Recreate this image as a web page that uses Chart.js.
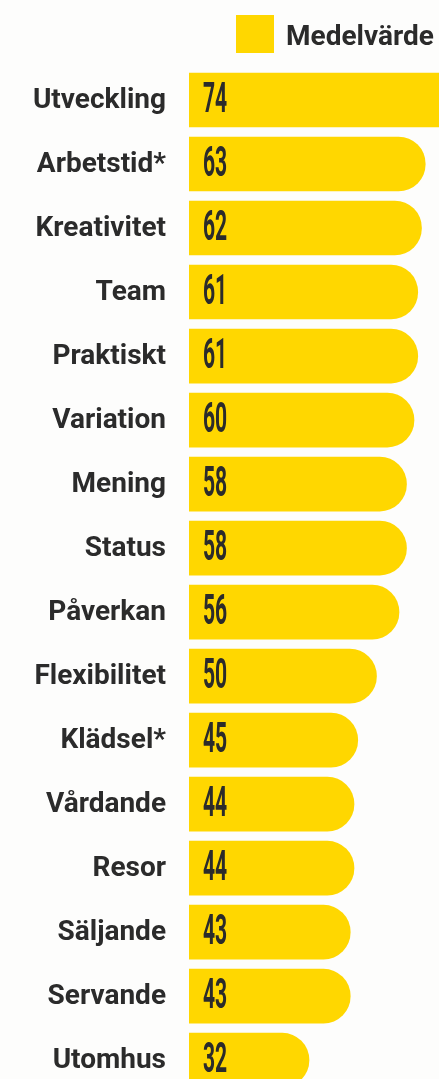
<!DOCTYPE html>
<html>
<head>
<meta charset="utf-8">
<script src="https://cdn.jsdelivr.net/npm/chart.js@4/dist/chart.umd.min.js"></script>
<style>
  html, body { margin: 0; padding: 0; background: #fdfdfc; overflow: hidden; }
  #wrap { position: relative; width: 439px; height: 1132px; }
  #legend { position: absolute; left: 236px; top: 15px; height: 38px; display: flex; align-items: center; }
  #legend .box { width: 38px; height: 38px; background: #FFD700; }
  #legend .txt { margin-left: 12px; font: bold 28px Roboto, sans-serif; color: #2b2b2b; white-space: nowrap; line-height: 38px; position: relative; top: 2px; }
</style>
</head>
<body>
<div id="wrap">
  <canvas id="c"></canvas>
  <div id="legend"><div class="box"></div><div class="txt" id="legendText"></div></div>
</div>
<script>
const categories = ['Utveckling','Arbetstid*','Kreativitet','Team','Praktiskt','Variation','Mening','Status','Påverkan','Flexibilitet','Klädsel*','Vårdande','Resor','Säljande','Servande','Utomhus'];
const values = [74,63,62,61,61,60,58,58,56,50,45,44,44,43,43,32];
const seriesName = 'Medelvärde';

const BAR_COLOR = '#FFD700';
const TEXT_COLOR = '#2b2b2b';
const NUM_SX = 0.49;
const TICK_PAD = 23;

document.getElementById('legendText').textContent = seriesName;

const valueLabelPlugin = {
  id: 'valueLabels',
  afterDatasetsDraw(chart) {
    const ctx = chart.ctx;
    const meta = chart.getDatasetMeta(0);
    const data = chart.data.datasets[0].data;
    meta.data.forEach((bar, i) => {
      ctx.save();
      ctx.font = 'bold 43px Roboto';
      ctx.fillStyle = TEXT_COLOR;
      ctx.textAlign = 'left';
      ctx.textBaseline = 'middle';
      ctx.translate(bar.base + 14, bar.y + 1);
      ctx.scale(NUM_SX, 1);
      ctx.fillText(String(data[i]), 0, 0);
      ctx.restore();
    });
  }
};

new Chart(document.getElementById('c'), {
  type: 'bar',
  data: {
    labels: categories,
    datasets: [{
      label: seriesName,
      data: values,
      backgroundColor: BAR_COLOR,
      borderWidth: 0,
      barThickness: 54,
      borderRadius: { topLeft: 0, bottomLeft: 0, topRight: 27, bottomRight: 27 },
      borderSkipped: 'start'
    }]
  },
  options: {
    indexAxis: 'y',
    responsive: true,
    maintainAspectRatio: false,
    animation: false,
    devicePixelRatio: 1,
    layout: { padding: { top: 68, bottom: 0, left: 0, right: 0 } },
    plugins: {
      legend: { display: false },
      tooltip: { enabled: false }
    },
    scales: {
      x: { display: false, min: 0, max: 66.667 },
      y: {
        grid: { display: false, drawTicks: false },
        border: { display: false },
        ticks: {
          padding: TICK_PAD,
          labelOffset: 1,
          color: TEXT_COLOR,
          font: { family: 'Roboto', weight: 'bold', size: 28 }
        },
        afterFit(scale) { scale.width = 189; }
      }
    }
  },
  plugins: [valueLabelPlugin]
});
</script>
</body>
</html>
